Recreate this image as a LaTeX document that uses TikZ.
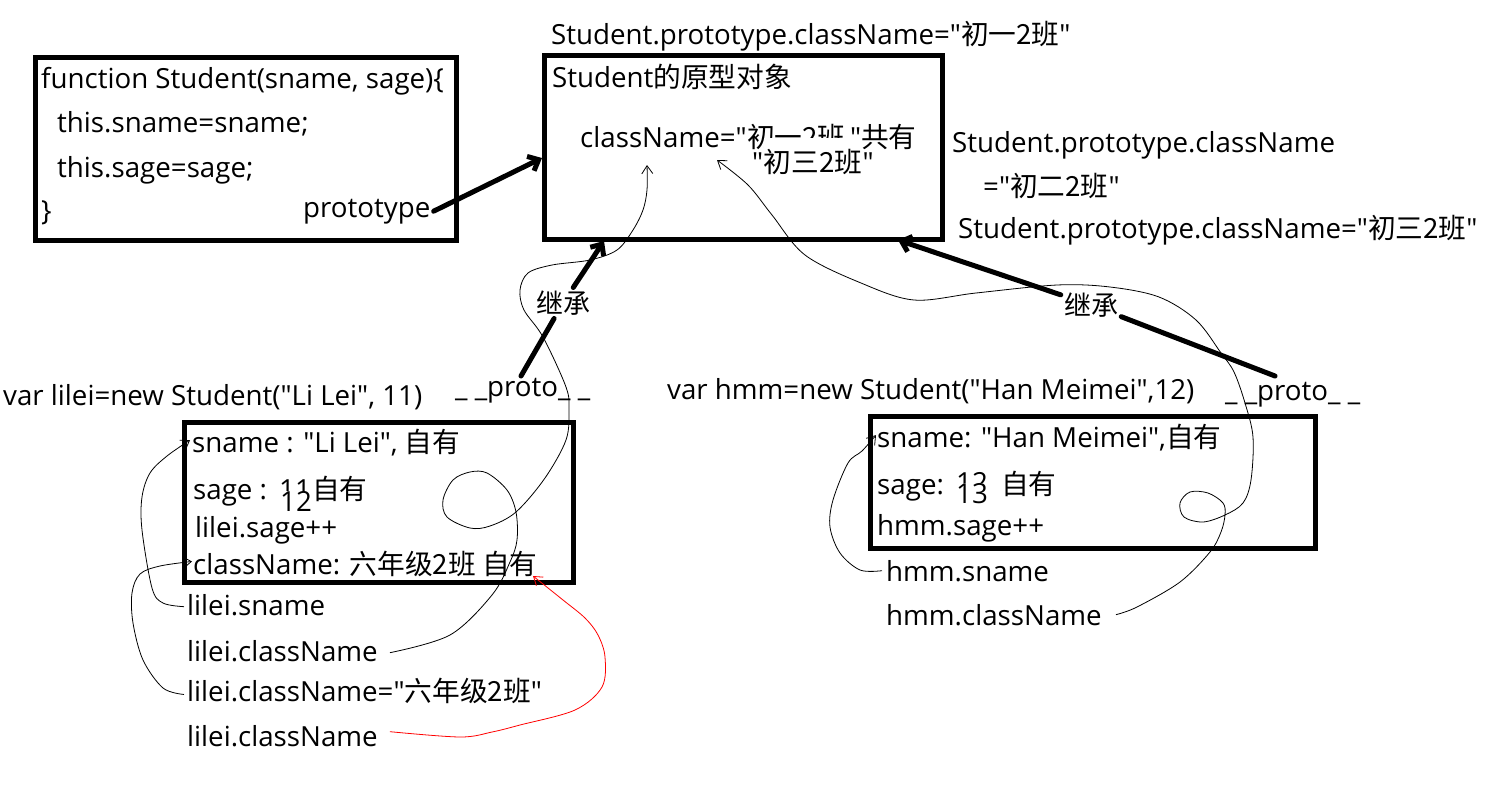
\documentclass[tikz,border=0pt]{standalone}
\usepackage{fontspec}
\newfontfamily\latinfont{Open Sans}
\newfontfamily\zhfont{Noto Sans CJK SC}
\newcommand\zh[1]{{\zhfont #1}}
\usetikzlibrary{arrows.meta,calc}
\begin{document}
\begin{tikzpicture}[x=1pt,y=-1pt,
  txt/.style={anchor=base west, inner sep=0pt, font=\latinfont\fontsize{27.7}{30}\selectfont},
  cover/.style={txt, fill=white},
  frame/.style={draw, line width=4.5pt, anchor=north west, inner sep=0pt},
  lbl/.style={inner sep=3pt, font=\fontsize{27}{30}\selectfont\zhfont},
  bigline/.style={line width=5pt, line cap=round},
  bigarrow/.style={bigline, -{Straight Barb[length=9pt,width=16pt]}},
  thinarrow/.style={line width=0.8pt, -{Straight Barb[length=8pt,width=11pt,line width=0.8pt]}},
  redarrow/.style={thinarrow, red},
]
\useasboundingbox (0,0) rectangle (1508,796);

% boxes
\node[frame, minimum width=421pt, minimum height=183pt] (fbox) at (33,55) {};
\node[frame, minimum width=398pt, minimum height=184pt] (cbox) at (542,53) {};
\node[frame, minimum width=389pt, minimum height=160pt] (lbox) at (182,420) {};
\node[frame, minimum width=445pt, minimum height=132pt] (hbox) at (868,414) {};

% constructor box
\node[txt] (f1) at (41,88) {function Student(sname, sage)\{};
\node[txt] (f2) at (57,132) {this.sname=sname;};
\node[txt] (f3) at (57,177) {this.sage=sage;};
\node[txt] (f4) at (41,220) {\}};
\node[txt] (ptype) at (303,217) {prototype};

% prototype object
\node[txt] (top1) at (551,44) {Student.prototype.className="\zh{初一2班}"};
\node[txt] (c1) at (552,87) {Student\zh{的原型对象}};
\node[txt] (c2a) at (580,147) {className="};
\node[txt] (c2b) at (c2a.base east) {\zh{初一2班}};
\node[txt] (c2c) at ($(c2b.base east)+(4,0)$) {"\zh{共有}};
\node[txt] (c3a) at (752,172) {"};
\node[cover, text height=34pt] (c3b) at (c3a.base east) {\zh{初三2班}};
\node[txt] (c3c) at (c3b.base east) {"};

% right notes
\node[txt] (r1) at (952,152) {Student.prototype.className};
\node[txt] (r2) at (983,196) {="\zh{初二2班}"};
\node[txt] (r3) at (958,238) {Student.prototype.className="\zh{初三2班}"};

% lilei
\node[txt] (v1) at (3,405) {var lilei=new Student("Li Lei", 11)};
\node[txt] (lp) at (455,396) {\_ \_proto\_ \_};
\node[txt] (l1) at (192,452) {sname : "Li Lei", \zh{自有}};
\node[txt] (l2) at (193,499) {sage :};
\node[txt] (l11) at (279,499) {11};
\node[cover] (l12) at (280,511) {12};
\node[txt] (lzy) at (312,499) {\zh{自有}};
\node[txt] (l3) at (195,537) {lilei.sage++};
\node[txt] (l4) at (193,574) {className: \zh{六年级2班 自有}};
\node[txt] (ls) at (187,615) {lilei.sname};
\node[txt] (lc1) at (187,661) {lilei.className};
\node[txt] (lc2) at (187,701) {lilei.className="\zh{六年级2班}"};
\node[txt] (lc3) at (187,746) {lilei.className};

% hmm
\node[txt] (v2) at (667,399) {var hmm=new Student("Han Meimei",12)};
\node[txt] (hp) at (1225,400) {\_ \_proto\_ \_};
\node[txt] (h1) at (877,447) {sname: "Han Meimei",\zh{自有}};
\node[txt] (h2) at (877,494) {sage:};
\node[txt] (h12) at (956,492) {12};
\node[cover] (h13) at (956,503) {13};
\node[txt] (hzy) at (1001,494) {\zh{自有}};
\node[txt] (h3) at (877,535) {hmm.sage++};
\node[txt] (hs) at (886,581) {hmm.sname};
\node[txt] (hc) at (886,625) {hmm.className};

% thick arrows
\draw[bigarrow] ($(ptype.east)+(3,0)$) -- ($(cbox.north west)+(0,105)$);

\node[lbl] (inh1) at (563,303) {继承};
\coordinate (la) at (521,376);
\coordinate (lb) at (604,241);
\draw[bigline] (la) -- (inh1);
\draw[bigarrow] (inh1) -- (lb);

\node[lbl] (inh2) at (1091,305) {继承};
\coordinate (ra) at (1275,376);
\coordinate (rb) at (898,240);
\draw[bigline] (ra) -- (inh2);
\draw[bigarrow] (inh2) -- (rb);

% thin hand-drawn curves
\coordinate (a0) at ($(lc1.east)+(12,2)$);
\coordinate (a1) at (647,165);
\draw[thinarrow] plot[smooth, tension=0.55] coordinates {(a0) (450,635) (492,595) (510,562) (517,540) (516,512) (507,490) (487,473) (470,472) (453,480) (443,500) (447,517) (470,528) (490,526) (516,512) (545,478) (566,440) (569,410) (566,387) (543,337) (524,310) (520,290) (528,273) (552,265) (590,260) (617,250) (633,230) (643,210) (647,190) (a1)};

\coordinate (b0) at ($(hc.east)+(14,0)$);
\coordinate (b1) at (717,160);
\draw[thinarrow] plot[smooth, tension=0.55] coordinates {(b0) (1137,607) (1180,582) (1210,552) (1221,532) (1225,515) (1223,503) (1208,493) (1190,492) (1180,503) (1184,517) (1203,522) (1225,515) (1243,503) (1251,480) (1253,437) (1245,403) (1234,372) (1221,353) (1196,320) (1159,297) (1110,287) (1057,285) (976,293) (914,300) (861,283) (805,255) (772,215) (748,185) (b1)};

\coordinate (c0) at ($(ls.west)+(-3,2)$);
\coordinate (cc1) at ($(l1.west)+(-2,-2)$);
\draw[thinarrow] plot[smooth, tension=0.55] coordinates {(c0) (163,603) (152,588) (142,530) (142,497) (150,473) (167,456) (cc1)};

\coordinate (d0) at ($(lc2.west)+(-3,4)$);
\coordinate (d1) at ($(l4.west)+(-1,-2)$);
\draw[thinarrow] plot[smooth, tension=0.55] coordinates {(d0) (163,688) (143,660) (133,623) (132,593) (140,574) (160,566) (d1)};

\coordinate (e0) at ($(lc3.east)+(12,-4)$);
\coordinate (e1) at (533,576);
\draw[redarrow] plot[smooth, tension=0.55] coordinates {(e0) (460,737) (492,732) (520,725) (575,710) (602,687) (605,657) (598,635) (585,618) (563,600) (e1)};

\coordinate (g0) at ($(hs.west)+(-4,0)$);
\coordinate (g1) at ($(h1.west)+(-1,-2)$);
\draw[thinarrow] plot[smooth, tension=0.55] coordinates {(g0) (860,570) (840,553) (830,527) (833,500) (848,463) (862,451) (g1)};
\end{tikzpicture}
\end{document}
